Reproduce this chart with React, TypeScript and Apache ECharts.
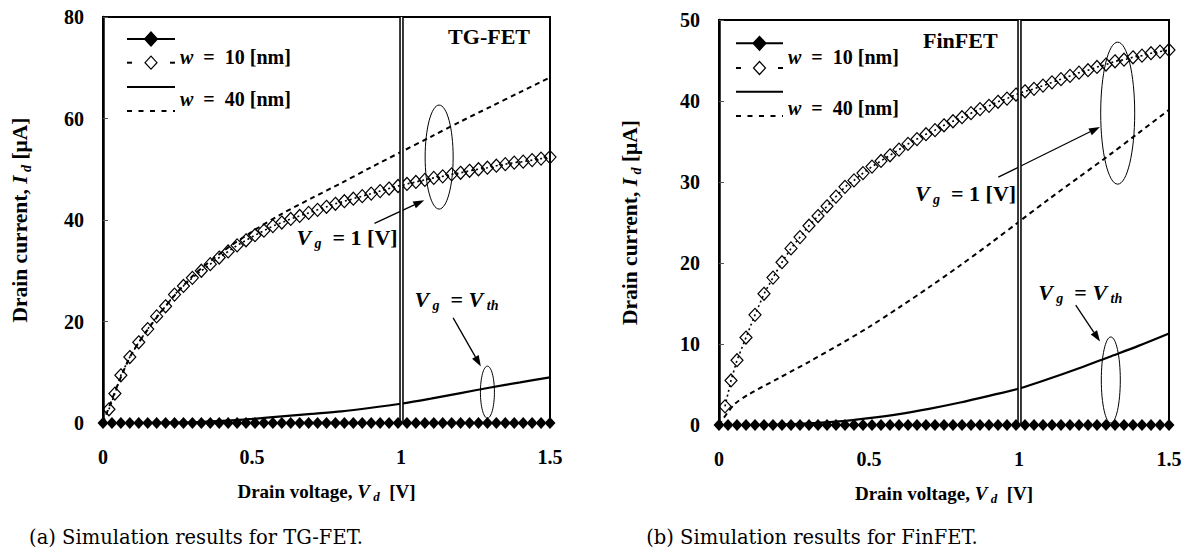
import React, { useEffect, useRef } from "react";
import * as echarts from "echarts";

// Drain voltage sweep for the hollow-diamond curves (V)
const vdSweep = [
  0.02, 0.04, 0.06, 0.09, 0.12, 0.15, 0.18, 0.21, 0.24, 0.27, 0.3, 0.33, 0.36,
  0.39, 0.42, 0.45, 0.48, 0.51, 0.54, 0.57, 0.6, 0.63, 0.66, 0.69, 0.72, 0.75,
  0.78, 0.81, 0.84, 0.87, 0.9, 0.93, 0.96, 0.99, 1.02, 1.05, 1.08, 1.11, 1.14,
  1.17, 1.2, 1.23, 1.26, 1.29, 1.32, 1.35, 1.38, 1.41, 1.44, 1.47, 1.5,
];
// Drain voltage sweep for the filled-diamond curves (V)
const vdFine = [
  0, 0.03, 0.06, 0.09, 0.12, 0.15, 0.18, 0.21, 0.24, 0.27, 0.3, 0.33, 0.36,
  0.39, 0.42, 0.45, 0.48, 0.51, 0.54, 0.57, 0.6, 0.63, 0.66, 0.69, 0.72, 0.75,
  0.78, 0.81, 0.84, 0.87, 0.9, 0.93, 0.96, 0.99, 1.02, 1.05, 1.08, 1.11, 1.14,
  1.17, 1.2, 1.23, 1.26, 1.29, 1.32, 1.35, 1.38, 1.41, 1.44, 1.47, 1.5,
];
// Drain voltage sweep for the w = 40 nm curves (V)
const vdCoarse = [0, 0.05, 0.1, 0.2, 0.3, 0.4, 0.5, 0.6, 0.7, 0.8, 0.9, 1.0, 1.1, 1.2, 1.3, 1.4, 1.5];

// TG-FET drain current (uA)
const tgW10Vth = [
  0, 0, 0, 0, 0, 0, 0, 0, 0, 0, 0, 0, 0, 0, 0, 0, 0, 0, 0, 0, 0, 0, 0, 0, 0, 0,
  0, 0, 0, 0, 0, 0, 0, 0, 0, 0, 0, 0, 0, 0, 0, 0, 0, 0, 0, 0, 0, 0, 0, 0, 0,
];
const tgW10V1 = [
  2.7, 5.8, 9.4, 13.0, 15.9, 18.5, 21.0, 23.0, 25.3, 27.0, 28.6, 30.0, 31.3,
  32.6, 33.8, 35.0, 36.0, 37.0, 37.9, 38.8, 39.5, 40.2, 40.8, 41.4, 42.0, 42.6,
  43.2, 43.7, 44.2, 44.7, 45.2, 45.7, 46.2, 46.7, 47.1, 47.5, 47.9, 48.3, 48.6,
  49.0, 49.3, 49.7, 50.0, 50.3, 50.7, 51.0, 51.3, 51.5, 51.8, 52.1, 52.4,
];
const tgW40V1 = [0, 7.6, 14.0, 22.3, 28.9, 33.7, 37.7, 41.2, 44.3, 47.3, 50.4, 53.4, 56.4, 59.4, 62.3, 65.2, 68.1];
const tgW40Vth = [0, 0, 0, 0.05, 0.15, 0.4, 0.8, 1.3, 1.8, 2.3, 3.0, 3.8, 4.8, 5.9, 7.0, 8.0, 9.0];

// FinFET drain current (uA)
const finW10Vth = [
  0, 0, 0, 0, 0, 0, 0, 0, 0, 0, 0, 0, 0, 0, 0, 0, 0, 0, 0, 0, 0, 0, 0, 0, 0, 0,
  0, 0, 0, 0, 0, 0, 0, 0, 0, 0, 0, 0, 0, 0, 0, 0, 0, 0, 0, 0, 0, 0, 0, 0, 0,
];
const finW10V1 = [
  2.3, 5.5, 8.0, 10.8, 13.6, 16.2, 18.2, 20.1, 21.8, 23.2, 24.6, 25.8, 27.0,
  28.2, 29.4, 30.2, 31.1, 31.9, 32.6, 33.3, 34.0, 34.7, 35.3, 35.9, 36.4, 37.0,
  37.5, 38.0, 38.5, 39.0, 39.4, 39.9, 40.3, 40.8, 41.2, 41.5, 41.9, 42.3, 42.7,
  43.1, 43.5, 43.8, 44.2, 44.5, 44.9, 45.1, 45.4, 45.6, 45.9, 46.1, 46.3,
];
const finW40V1 = [0, 2.5, 3.8, 5.8, 7.8, 9.9, 12.1, 14.5, 17.0, 19.6, 22.3, 25.1, 27.9, 30.6, 33.3, 36.1, 38.9];
const finW40Vth = [0, 0, 0, 0.05, 0.2, 0.45, 0.85, 1.35, 2.0, 2.75, 3.6, 4.5, 5.7, 7.0, 8.4, 9.8, 11.3];

// Axis ranges
const xRange = { min: 0, max: 1.5, interval: 0.5 };
const tgYRange = { min: 0, max: 80, interval: 20 };
const finYRange = { min: 0, max: 50, interval: 10 };

// Annotation anchors in data units: [Vd, Id]
const tgNotes = {
  ellipseOn: { c: [1.128, 52.4], rx: 14, ry: 52 },
  arrowOn: [[0.911, 39.35], [1.078, 43.9]],
  textOn: [0.649, 36.5],
  ellipseTh: { c: [1.29, 6.08], rx: 7, ry: 26 },
  arrowTh: [[1.175, 20.7], [1.268, 11.15]],
  textTh: [1.045, 24.3],
};
const finNotes = {
  ellipseOn: { c: [1.329, 38.5], rx: 17, ry: 71 },
  arrowOn: [[0.931, 30.6], [1.27, 36.8]],
  textOn: [0.653, 28.6],
  ellipseTh: { c: [1.306, 5.56], rx: 9.5, ry: 43 },
  arrowTh: [[1.189, 14.8], [1.27, 10.3]],
  textTh: [1.064, 16.35],
};

const SERIF = "Liberation Serif";
const CAPTION_FONT = "DejaVu Serif";

const pairs = (xs: number[], ys: number[]) => xs.map((x, i) => [x, ys[i]]);

const tickFont = { fontFamily: SERIF, fontSize: 20, fontWeight: "bold" as const, color: "#000" };

function axisNameRich(size: number, subSize: number) {
  return {
    a: { fontFamily: SERIF, fontSize: size, fontWeight: "bold", color: "#000", lineHeight: size + 5 },
    i: { fontFamily: SERIF, fontSize: size, fontWeight: "bold", fontStyle: "italic", color: "#000", lineHeight: size + 5 },
    s: { fontFamily: SERIF, fontSize: subSize, fontWeight: "bold", fontStyle: "italic", color: "#000", lineHeight: subSize, verticalAlign: "bottom" },
  };
}

const noteRich = {
  v: { fontFamily: SERIF, fontSize: 22, fontWeight: "bold", fontStyle: "italic", fill: "#000", lineHeight: 26 },
  s: { fontFamily: SERIF, fontSize: 14, fontWeight: "bold", fontStyle: "italic", fill: "#000", lineHeight: 14, verticalAlign: "bottom" },
  t: { fontFamily: SERIF, fontSize: 22, fontWeight: "bold", fill: "#000", lineHeight: 26 },
};

const legendRich = {
  w: { fontFamily: SERIF, fontSize: 20, fontWeight: "bold", fontStyle: "italic", fill: "#000" },
  t: { fontFamily: SERIF, fontSize: 20, fontWeight: "bold", fill: "#000" },
};

function xAxisFor(g: number) {
  return {
    type: "value",
    gridIndex: g,
    ...xRange,
    name: "{a|Drain voltage, }{i|V}{s| d}{a|  [V]}",
    nameLocation: "middle",
    nameGap: 56,
    nameTextStyle: { rich: axisNameRich(19, 13) },
    axisLine: { show: true, lineStyle: { color: "#000", width: 1.5 } },
    axisTick: { show: false },
    splitLine: { show: false },
    axisLabel: { ...tickFont, margin: 24 },
  };
}

function yAxisFor(g: number, range: any, gap: number) {
  return {
    type: "value",
    gridIndex: g,
    ...range,
    name: "{a|Drain current, }{i|I}{s| d}{a| [μA]}",
    nameLocation: "middle",
    nameRotate: 90,
    nameGap: gap,
    nameTextStyle: { rich: axisNameRich(21.5, 14) },
    axisLine: { show: true, lineStyle: { color: "#000", width: 2.5 } },
    axisTick: { show: true, inside: true, length: 5, lineStyle: { color: "#555", width: 1 } },
    splitLine: { show: false },
    axisLabel: { ...tickFont, margin: 19 },
  };
}

function panelSeries(g: number, w10Vth: number[], w10V1: number[], w40V1: number[], w40Vth: number[]) {
  return [
    {
      type: "line",
      xAxisIndex: g,
      yAxisIndex: g,
      data: pairs(vdCoarse, w40Vth),
      smooth: 0.3,
      symbol: "none",
      clip: false,
      z: 2,
      lineStyle: { color: "#000", width: 2.2 },
      markLine: {
        silent: true,
        symbol: ["none", "none"],
        label: { show: false },
        data: [
          { xAxis: 1, lineStyle: { color: "#000", width: 4.5, type: "solid" } },
          { xAxis: 1, lineStyle: { color: "#fff", width: 1.4, type: "solid" } },
        ],
      },
    },
    {
      type: "line",
      xAxisIndex: g,
      yAxisIndex: g,
      data: pairs(vdCoarse, w40V1),
      smooth: 0.3,
      symbol: "none",
      clip: false,
      z: 3,
      lineStyle: { color: "#000", width: 2, type: [5, 4] },
    },
    {
      type: "line",
      xAxisIndex: g,
      yAxisIndex: g,
      data: pairs(vdSweep, w10V1),
      symbol: "diamond",
      symbolSize: [12, 13],
      clip: false,
      z: 4,
      lineStyle: { color: "#000", width: 1.6, type: [2, 3] },
      itemStyle: { color: "rgba(255,255,255,0)", borderColor: "#000", borderWidth: 1.2 },
    },
    {
      type: "line",
      xAxisIndex: g,
      yAxisIndex: g,
      data: pairs(vdFine, w10Vth),
      symbol: "diamond",
      symbolSize: [11, 12],
      clip: false,
      z: 5,
      lineStyle: { color: "#000", width: 1.5 },
      itemStyle: { color: "#000" },
    },
  ];
}

function diamond(cx: number, cy: number, hw: number, hh: number, fill: string) {
  return {
    type: "polygon",
    silent: true,
    shape: { points: [[cx, cy - hh], [cx + hw, cy], [cx, cy + hh], [cx - hw, cy]] },
    style: { fill, stroke: "#000", lineWidth: 1.2 },
  };
}

function seg(x1: number, y1: number, x2: number, y2: number, width: number, dash?: number[]) {
  return {
    type: "line",
    silent: true,
    shape: { x1, y1, x2, y2 },
    style: { stroke: "#000", lineWidth: width, lineDash: dash },
  };
}

function legendBlock(x1: number, x2: number, rows: number[], textX: number, textY: number[]) {
  const mid = (x1 + x2) / 2;
  return [
    seg(x1, rows[0], x2, rows[0], 2),
    diamond(mid, rows[0], 6.5, 7, "#000"),
    seg(x1, rows[1], x1 + 5, rows[1], 2),
    seg(x2 - 5, rows[1], x2, rows[1], 2),
    diamond(mid, rows[1], 6, 6.5, "#fff"),
    seg(x1, rows[2], x2, rows[2], 2),
    seg(x1, rows[3], x2, rows[3], 2, [5, 6.5]),
    {
      type: "text",
      silent: true,
      x: textX,
      y: textY[0],
      style: { text: "{w|w}{t|  =  10 [nm]}", rich: legendRich, align: "left", verticalAlign: "middle" },
    },
    {
      type: "text",
      silent: true,
      x: textX,
      y: textY[1],
      style: { text: "{w|w}{t|  =  40 [nm]}", rich: legendRich, align: "left", verticalAlign: "middle" },
    },
  ];
}

function arrow(a: number[], b: number[]) {
  const dx = b[0] - a[0];
  const dy = b[1] - a[1];
  const len = Math.hypot(dx, dy);
  const ux = dx / len;
  const uy = dy / len;
  const hl = 11;
  const hw = 3.8;
  const bx = b[0] - ux * hl;
  const by = b[1] - uy * hl;
  return [
    seg(a[0], a[1], bx, by, 1.3),
    {
      type: "polygon",
      silent: true,
      shape: { points: [[b[0], b[1]], [bx - uy * hw, by + ux * hw], [bx + uy * hw, by - ux * hw]] },
      style: { fill: "#000" },
    },
  ];
}

function notes(chart: echarts.ECharts, g: number, n: any) {
  const px = (p: number[]) => chart.convertToPixel({ gridIndex: g }, p) as number[];
  const eOn = px(n.ellipseOn.c);
  const eTh = px(n.ellipseTh.c);
  const tOn = px(n.textOn);
  const tTh = px(n.textTh);
  return [
    {
      type: "ellipse",
      silent: true,
      shape: { cx: eOn[0], cy: eOn[1], rx: n.ellipseOn.rx, ry: n.ellipseOn.ry },
      style: { fill: "none", stroke: "#000", lineWidth: 1 },
    },
    {
      type: "ellipse",
      silent: true,
      shape: { cx: eTh[0], cy: eTh[1], rx: n.ellipseTh.rx, ry: n.ellipseTh.ry },
      style: { fill: "none", stroke: "#000", lineWidth: 1 },
    },
    ...arrow(px(n.arrowOn[0]), px(n.arrowOn[1])),
    ...arrow(px(n.arrowTh[0]), px(n.arrowTh[1])),
    {
      type: "text",
      silent: true,
      x: tOn[0],
      y: tOn[1],
      style: { text: "{v|V}{s| g}{t|  = 1 [V]}", rich: noteRich, align: "left", verticalAlign: "middle" },
    },
    {
      type: "text",
      silent: true,
      x: tTh[0],
      y: tTh[1],
      style: { text: "{v|V}{s| g}{t|  = }{v|V}{s| th}", rich: noteRich, align: "left", verticalAlign: "middle" },
    },
  ];
}

export default function App() {
  const ref = useRef<HTMLDivElement>(null);

  useEffect(() => {
    if (!ref.current) return;
    const chart = echarts.init(ref.current, undefined, { renderer: "svg" });

    chart.setOption({
      animation: false,
      backgroundColor: "#fff",
      grid: [
        { left: 103, top: 17, width: 447, height: 406, show: true, borderColor: "#000", borderWidth: 2, backgroundColor: "transparent" },
        { left: 719, top: 20, width: 450, height: 405, show: true, borderColor: "#000", borderWidth: 2, backgroundColor: "transparent" },
      ],
      xAxis: [xAxisFor(0), xAxisFor(1)],
      yAxis: [yAxisFor(0, tgYRange, 70), yAxisFor(1, finYRange, 76)],
      series: [
        ...panelSeries(0, tgW10Vth, tgW10V1, tgW40V1, tgW40Vth),
        ...panelSeries(1, finW10Vth, finW10V1, finW40V1, finW40Vth),
      ],
    });

    const titleStyle = { fontFamily: SERIF, fontSize: 22, fontWeight: "bold", fill: "#000" };
    const captionStyle = { fontFamily: CAPTION_FONT, fontSize: 19.5, fill: "#000" };

    chart.setOption({
      graphic: [
        ...legendBlock(127, 175, [39, 62.7, 87, 111], 180, [57, 99]),
        ...legendBlock(736, 783, [43.3, 68, 91.7, 116], 788, [57, 108]),
        { type: "text", silent: true, x: 530, y: 36, style: { text: "TG-FET", ...titleStyle, align: "right", verticalAlign: "middle" } },
        { type: "text", silent: true, x: 923, y: 40, style: { text: "FinFET", ...titleStyle, align: "left", verticalAlign: "middle" } },
        ...notes(chart, 0, tgNotes),
        ...notes(chart, 1, finNotes),
        { type: "text", silent: true, x: 196, y: 537, style: { text: "(a) Simulation results for TG-FET.", ...captionStyle, align: "center", verticalAlign: "middle" } },
        { type: "text", silent: true, x: 812, y: 537, style: { text: "(b) Simulation results for FinFET.", ...captionStyle, align: "center", verticalAlign: "middle" } },
      ],
    });

    return () => chart.dispose();
  }, []);

  return (
    <div
      ref={ref}
      style={{ position: "absolute", left: 0, top: 0, width: 1190, height: 554, background: "#fff" }}
    />
  );
}
